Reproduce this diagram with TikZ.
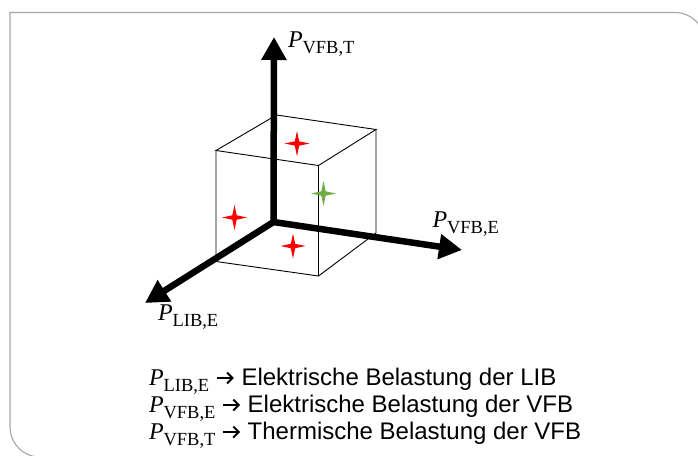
\documentclass[tikz,border=0pt]{standalone}
\usepackage{fontspec}
\setmainfont{Liberation Sans}
\newfontfamily\serifP{Liberation Serif}
\usetikzlibrary{arrows.meta}
\newcommand\Pv[1]{{\serifP\itshape P}\kern-0.3pt\raisebox{-0.27em}{\serifP\fontsize{18.5}{18.5}\selectfont #1}}
\newcommand\rarr{\tikz[baseline=0pt]\draw[line width=1.9pt,-{Straight Barb[length=5.5pt,width=11pt]}] (0pt,7pt) -- (17pt,7pt);}
\tikzset{
  frameline/.style={draw=black!35, line width=1.1pt},
  edge/.style={draw=black, line width=0.9pt},
  axis/.style={draw=black, line width=6.5pt, -{Triangle[width=24pt,length=23pt]}},
  lbl/.style={inner sep=0pt, anchor=base west, font=\fontsize{24}{24}\selectfont},
  fourstar/.pic={\fill[pic actions] (12.5,0) -- (2.2,2.2) -- (0,12.5) -- (-2.2,2.2) -- (-12.5,0) -- (-2.2,-2.2) -- (0,-12.5) -- (2.2,-2.2) -- cycle;}
}
\begin{document}
\begin{tikzpicture}[x=1pt,y=-1pt]
\useasboundingbox (0,0) rectangle (698,455);
\clip (0,0) rectangle (698,455);
% frame
\draw[frameline] (10,200) -- (10,12.5) -- (400,12.5) {[rounded corners=30pt] -- (705,12.5) -- (705,120)};
\draw[frameline] (10,200) {[rounded corners=30pt] -- (10,457) -- (300,457)};
% cube vertices
\coordinate (TBL) at (276.5,115);
\coordinate (TBR) at (376,129.5);
\coordinate (TFL) at (216,150.5);
\coordinate (TFR) at (318.5,165.5);
\coordinate (BFL) at (216,261.5);
\coordinate (BFR) at (318.5,276);
\coordinate (BBR) at (376,233);
\draw[edge] (TFL) -- (TBL) -- (TBR) -- (TFR) -- cycle;
\draw[edge] (TFL) -- (BFL) -- (BFR) -- (TFR);
\draw[edge] (BFR) -- (BBR) -- (TBR);
% axes
\coordinate (O) at (273.5,222);
\coordinate (up) at (274,37);
\coordinate (right) at (462,250);
\coordinate (left) at (145,303);
\draw[axis] (O) -- (up);
\draw[axis] (O) -- (right);
\draw[axis] (O) -- (left);
% stars
\pic[fill=red] at (297,143.5) {fourstar};
\pic[fill={rgb,255:red,112;green,173;blue,71}] at (323.5,193.5) {fourstar};
\pic[fill=red] at (234.5,217.5) {fourstar};
\pic[fill=red] at (293,246) {fourstar};
% axis labels
\node[lbl] (lT) at (288,47.5) {\Pv{VFB,T}};
\node[lbl] (lE) at (432.5,227) {\Pv{VFB,E}};
\node[lbl] (lL) at (158,320) {\Pv{LIB,E}};
% legend
\node[lbl] (g1) at (149,385) {\Pv{LIB,E} \rarr{} Elektrische Belastung der LIB};
\node[lbl] (g2) at (149,412) {\Pv{VFB,E} \rarr{} Elektrische Belastung der VFB};
\node[lbl] (g3) at (149,439) {\Pv{VFB,T} \rarr{} Thermische Belastung der VFB};
\end{tikzpicture}
\end{document}
